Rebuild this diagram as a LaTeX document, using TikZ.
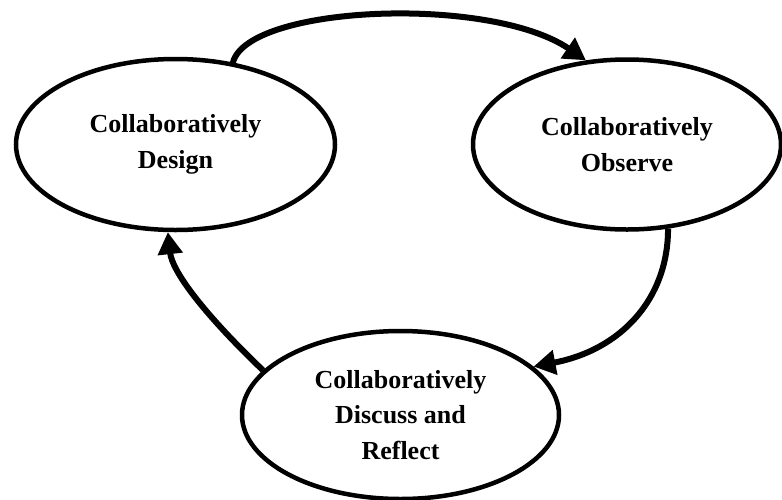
\documentclass[tikz,border=0pt]{standalone}
\usepackage{fontspec}
\setmainfont{Liberation Serif}
\usetikzlibrary{shapes.geometric,arrows.meta}
\begin{document}
\begin{tikzpicture}[x=1pt,y=-1pt,
  stage/.style={ellipse, draw, line width=4.5pt, inner sep=0pt, align=center,
    font=\bfseries\fontsize{26}{35.5}\selectfont},
  cycle/.style={line width=6pt, -{Triangle[length=22pt,width=24pt]}}]
\useasboundingbox (0,0) rectangle (782,499);
\node[stage, minimum width=319pt, minimum height=171pt] (design) at (175.5,144.5)
  {Collaboratively\\Design};
\node[stage, minimum width=308pt, minimum height=170pt] (observe) at (627,144.5)
  {Collaboratively\\Observe};
\node[stage, minimum width=317pt, minimum height=168pt] (reflect) at (400.5,415)
  {Collaboratively\\Discuss and\\Reflect};
% design -> observe, over the top
\draw[cycle, line cap=round] (design.55) .. controls (248,5) and (490,-5) .. (observe.116);
% observe -> reflect, down the right side
\draw[cycle] (observe.-64) .. controls (668,300) and (620,350) .. (reflect.20);
% reflect -> design, up the left side
\draw[cycle] (reflect.162) .. controls (200,310) and (172,270) .. (design.-95);
\end{tikzpicture}
\end{document}
